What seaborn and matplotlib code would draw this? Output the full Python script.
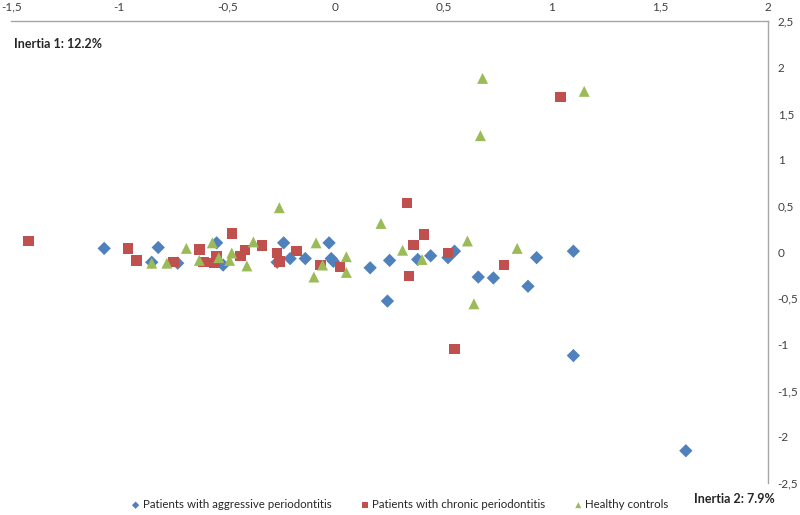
import matplotlib
matplotlib.use("Agg")
import matplotlib.pyplot as plt
import matplotlib.ticker as mticker
import seaborn as sns
import pandas as pd

# Correspondence analysis coordinates
aggressive_x = [-1.07, -0.82, -0.85, -0.55, -0.73, -0.52, -0.27, -0.24, -0.21, -0.14,
                -0.03, -0.02, -0.01, 0.16, 0.25, 0.24, 0.38, 0.44, 0.52, 0.55,
                0.66, 0.73, 0.89, 0.93, 1.10, 1.10, 1.62]
aggressive_y = [0.04, 0.05, -0.11, 0.10, -0.12, -0.14, -0.11, 0.10, -0.07, -0.07,
                0.10, -0.07, -0.10, -0.17, -0.09, -0.53, -0.08, -0.04, -0.06, 0.01,
                -0.27, -0.28, -0.37, -0.06, 0.01, -1.12, -2.15]

chronic_x = [-1.42, -0.96, -0.92, -0.75, -0.63, -0.61, -0.56, -0.55, -0.48, -0.44,
             -0.42, -0.34, -0.27, -0.26, -0.18, -0.07, 0.02, 0.33, 0.41, 0.36,
             0.34, 0.52, 0.78, 0.55, 1.04]
chronic_y = [0.12, 0.04, -0.09, -0.11, 0.03, -0.11, -0.12, -0.04, 0.20, -0.04,
             0.02, 0.07, -0.01, -0.10, 0.01, -0.14, -0.16, 0.53, 0.19, 0.08,
             -0.26, -0.01, -0.14, -1.05, 1.68]

healthy_x = [-0.85, -0.78, -0.69, -0.63, -0.57, -0.54, -0.49, -0.48, -0.41, -0.38,
             -0.26, -0.09, -0.10, -0.06, 0.05, 0.05, 0.21, 0.31, 0.40, 0.61,
             0.84, 0.64, 0.68, 1.15, 0.67]
healthy_y = [-0.12, -0.12, 0.04, -0.09, 0.10, -0.06, -0.09, -0.01, -0.15, 0.11,
             0.48, 0.10, -0.27, -0.14, -0.05, -0.22, 0.31, 0.02, -0.08, 0.12,
             0.04, -0.56, 1.88, 1.74, 1.26]

groups = ["Patients with aggressive periodontitis",
          "Patients with chronic periodontitis",
          "Healthy controls"]

df = pd.DataFrame({
    "x": aggressive_x + chronic_x + healthy_x,
    "y": aggressive_y + chronic_y + healthy_y,
    "group": [groups[0]] * len(aggressive_x) + [groups[1]] * len(chronic_x)
             + [groups[2]] * len(healthy_x),
})

palette = {groups[0]: "#4F81BD", groups[1]: "#C0504D", groups[2]: "#9BBB59"}
markers = {groups[0]: "D", groups[1]: "s", groups[2]: "^"}

sns.set_style("white")
plt.rcParams["font.family"] = ["Lato", "DejaVu Sans"]

fig = plt.figure(figsize=(8, 5.15), dpi=100)
ax = fig.add_axes([0.014, 0.062, 0.946, 0.897])

for g in groups:
    sub = df[df["group"] == g]
    size = {"D": 46, "s": 56, "^": 62}[markers[g]]
    sns.scatterplot(data=sub, x="x", y="y", color=palette[g], marker=markers[g],
                    s=size, edgecolor="none", ax=ax, label=g, zorder=3)

ax.set_xlim(-1.5, 2)
ax.set_ylim(-2.5, 2.5)
ax.xaxis.set_major_locator(mticker.MultipleLocator(0.5))
ax.yaxis.set_major_locator(mticker.MultipleLocator(0.5))
fmt = mticker.FuncFormatter(lambda v, p: f"{v:g}".replace(".", ","))
ax.xaxis.set_major_formatter(fmt)
ax.yaxis.set_major_formatter(fmt)
ax.xaxis.tick_top()
ax.yaxis.tick_right()
ax.tick_params(axis="x", length=0, pad=6, labelsize=8.5, colors="#404040")
ax.tick_params(axis="y", length=0, pad=7, labelsize=8.5, colors="#404040")
for lab in ax.get_yticklabels():
    lab.set_horizontalalignment("left")
ax.set_xlabel("")
ax.set_ylabel("")

for side in ["left", "bottom"]:
    ax.spines[side].set_visible(False)
for side in ["top", "right"]:
    ax.spines[side].set_color("#a6a6a6")
    ax.spines[side].set_linewidth(1)

ax.legend(loc="center", bbox_to_anchor=(0.499, 0.02), bbox_transform=fig.transFigure,
          ncol=3, frameon=False, fontsize=8.3, markerscale=0.55, handletextpad=0.1,
          columnspacing=2.4, handlelength=1)

fig.text(0.018, 1 - 44 / 515, "Inertia 1: 12.2%", fontsize=9, fontweight="bold",
         va="center", ha="left")
fig.text(0.918, 1 - 499 / 515, "Inertia 2: 7.9%", fontsize=9, fontweight="bold",
         va="center", ha="center")

fig.savefig("out.png", dpi=100)
